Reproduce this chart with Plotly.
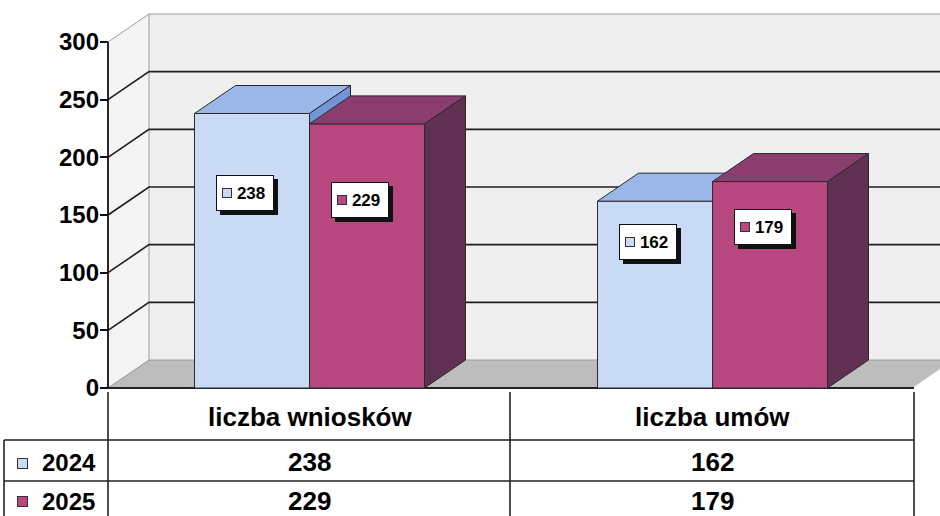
import plotly.graph_objects as go

# ---------------- data ----------------
categories = ["liczba wniosków", "liczba umów"]
years = ["2024", "2025"]
values_2024 = [238, 162]
values_2025 = [229, 179]
y_ticks = [0, 50, 100, 150, 200, 250, 300]
label_frac = [0.71, 0.78]   # vertical placement of the value boxes (fraction of bar height)

series = [("2024", values_2024), ("2025", values_2025)]

# ---------------- style / geometry ----------------
FRONT = {"2024": "#c9dbf4", "2025": "#b7487f"}
TOP = {"2024": "#9bb6e8", "2025": "#8c3d70"}
SIDE = {"2024": "#7295d6", "2025": "#5f3052"}
EDGE = "#2a2a2a"
FONT = "Liberation Sans, Arial, sans-serif"

W, H = 940, 516
ML, MB = 100, 124
PW, PH = W - ML, H - MB
PX_PER_CAT = 403.0
PX_PER_UNIT = 346.0 / 300.0
X0 = -0.5 - 8 / PX_PER_CAT
XR = [X0, X0 + PW / PX_PER_CAT]
Y0 = -4 / PX_PER_UNIT
YR = [Y0, Y0 + PH / PX_PER_UNIT]
DX = 41 / PX_PER_CAT
DY = 28 / PX_PER_UNIT
BW = 115 / PX_PER_CAT
FL, FR = -0.5, len(categories) - 0.5
YMAX = y_ticks[-1]


def px(xp):
    return (xp - ML) / PW


def py(yp):
    return (PH - yp) / PH


def poly(xs, ys, fill, line_color=EDGE, lw=1.0):
    return go.Scatter(x=list(xs) + [xs[0]], y=list(ys) + [ys[0]], mode="lines",
                      fill="toself", fillcolor=fill,
                      line=dict(color=line_color, width=lw),
                      hoverinfo="skip", showlegend=False)


def lines(xs, ys, color, lw, dash="solid"):
    return go.Scatter(x=xs, y=ys, mode="lines", line=dict(color=color, width=lw, dash=dash),
                      hoverinfo="skip", showlegend=False)


fig = go.Figure()
XE = XR[1] + 0.2

# back wall
fig.add_trace(poly([FL + DX, XE, XE, FL + DX], [DY, DY, YMAX + DY, YMAX + DY], "#efefef", "rgba(0,0,0,0)", 0))
# side wall
fig.add_trace(poly([FL, FL, FL + DX, FL + DX], [0, YMAX, YMAX + DY, DY], "#f4f4f4", "rgba(0,0,0,0)", 0))
# floor
fig.add_trace(poly([FL, FR, FR + DX, XE, XE, FL + DX], [0, 0, DY, DY, DY, DY], "#bdbdbd", "rgba(0,0,0,0)", 0))
fig.add_trace(poly([FL, FR, FR + DX, FL + DX], [0, 0, DY, DY], "#bdbdbd", "#9a9a9a", 1))
fig.add_trace(lines([FR, FR + DX], [0, DY], "#ffffff", 2))

# wall edges (top, back-left)
fig.add_trace(lines([FL, FL + DX, XE, None, FL + DX, FL + DX],
                    [YMAX, YMAX + DY, YMAX + DY, None, YMAX + DY, DY], "#9c9c9c", 1))

# gridlines on side + back wall
gx, gy = [], []
for v in y_ticks[1:-1]:
    gx += [FL, FL + DX, XE, None]
    gy += [v, v + DY, v + DY, None]
fig.add_trace(lines(gx, gy, "#1e1e1e", 1.6))

# value axis line and floor front edge
fig.add_trace(lines([FL, FL], [0, YMAX], "#111111", 1.8))
fig.add_trace(lines([FL, FR], [0, 0], "#222222", 1.8))

# 3D bars (painter's order)
annotations = []
for i, cat in enumerate(categories):
    for j, (yr, vals) in enumerate(series):
        v = vals[i]
        xl = i - BW + j * BW
        xr = xl + BW
        fig.add_trace(poly([xl, xr, xr, xl], [0, 0, v, v], FRONT[yr]))
        fig.add_trace(poly([xl, xr, xr + DX, xl + DX], [v, v, v + DY, v + DY], TOP[yr]))
        fig.add_trace(poly([xr, xr, xr + DX, xr + DX], [0, v, v + DY, DY], SIDE[yr]))

        cx = (xl + xr) / 2
        cy = v * label_frac[i]
        base = -7
        box = dict(x=cx, y=cy, xref="x", yref="y", showarrow=False, xanchor="center", yanchor="middle",
                   align="right", width=50, height=28,
                   borderpad=3, borderwidth=1, font=dict(family=FONT, size=17, color="black"))
        annotations.append(dict(box, text="\u00a0", xshift=base + 4, yshift=-4,
                                bgcolor="#111111", bordercolor="#111111"))
        annotations.append(dict(box, text="<b>%d\u00a0</b>" % v, xshift=base,
                                bgcolor="white", bordercolor="#111111"))
        annotations.append(dict(x=cx, y=cy, xref="x", yref="y", showarrow=False, text=" ",
                                xanchor="center", yanchor="middle",
                                width=8, height=8, borderpad=0, xshift=base - 18, yshift=0,
                                bgcolor=FRONT[yr], bordercolor="#333333", borderwidth=1,
                                font=dict(size=4)))

# ---------------- data table below ----------------
shapes = []
tl = dict(color="#222222", width=1.6)
for xp_ in (108, 510, 914):
    shapes.append(dict(type="line", xref="paper", yref="paper", x0=px(xp_), x1=px(xp_),
                       y0=py(392), y1=py(520), line=tl))
shapes.append(dict(type="line", xref="paper", yref="paper", x0=px(4), x1=px(4),
                   y0=py(440), y1=py(520), line=tl))
for yp_ in (440, 481):
    shapes.append(dict(type="line", xref="paper", yref="paper", x0=px(4), x1=px(914),
                       y0=py(yp_), y1=py(yp_), line=tl))

cfont = dict(family=FONT, size=26, color="black")
nfont = dict(family=FONT, size=26, color="black")
lfont = dict(family=FONT, size=24, color="black")
for i, cat in enumerate(categories):
    annotations.append(dict(x=i, y=py(417), xref="x", yref="paper", showarrow=False,
                            xanchor="center", yanchor="middle",
                            text="<b>%s</b>" % cat, font=cfont))
row_y = [462, 501]
for j, (yr, vals) in enumerate(series):
    for i, v in enumerate(vals):
        annotations.append(dict(x=i, y=py(row_y[j]), xref="x", yref="paper", showarrow=False,
                                xanchor="center", yanchor="middle",
                                text="<b>%d</b>" % v, font=nfont))
    annotations.append(dict(x=px(22), y=py(row_y[j] + 1), xref="paper", yref="paper", showarrow=False,
                            xanchor="center", yanchor="middle",
                            text=" ", width=9, height=9, borderpad=0, bgcolor=FRONT[yr],
                            bordercolor="#333333", borderwidth=1, font=dict(size=4)))
    annotations.append(dict(x=px(40), y=py(row_y[j]), xref="paper", yref="paper", showarrow=False,
                            xanchor="left", yanchor="middle", text="<b>%s</b>" % yr, font=lfont))

fig.update_layout(
    width=W, height=H,
    margin=dict(l=ML, r=0, t=0, b=MB, pad=0),
    paper_bgcolor="white", plot_bgcolor="white",
    showlegend=False,
    xaxis=dict(range=XR, visible=False, fixedrange=True),
    yaxis=dict(range=YR, tickvals=y_ticks, ticks="inside", ticklen=8, tickwidth=1.6,
               tickcolor="#111111", showgrid=False, zeroline=False, showline=False,
               tickfont=dict(family=FONT, size=24, color="black", weight="bold"),
               fixedrange=True),
    shapes=shapes,
    annotations=annotations,
)

fig.write_html("out.html", config={"displayModeBar": False},
               post_script="document.body.style.margin='0px';")
